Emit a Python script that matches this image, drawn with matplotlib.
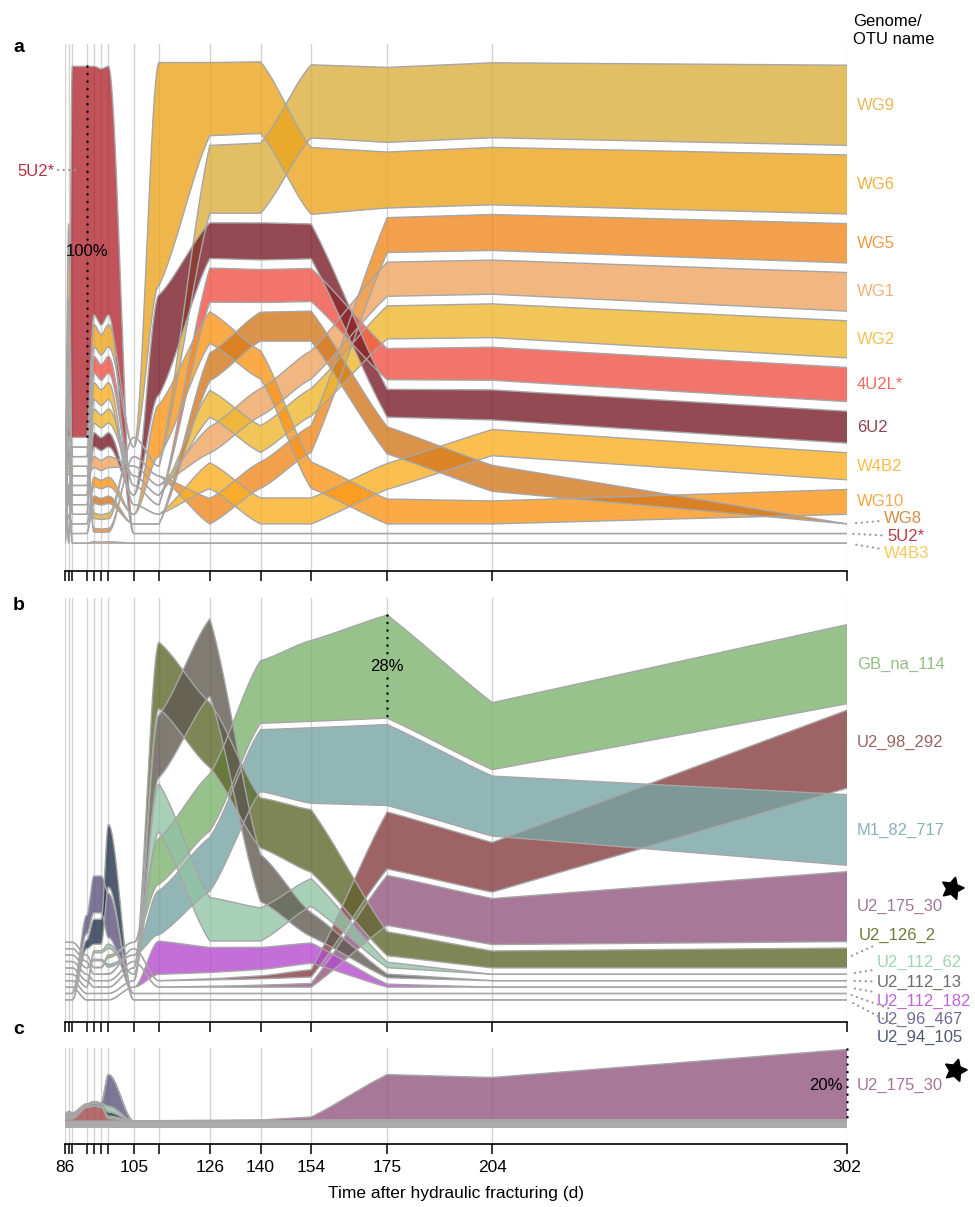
import numpy as np
import matplotlib
matplotlib.use("Agg")
import matplotlib.pyplot as plt
from matplotlib import colors as mcolors
from matplotlib.lines import Line2D

plt.rcParams['font.family'] = ['Liberation Sans', 'DejaVu Sans']

W, H = 975, 1207

days = [86, 87, 88, 92, 94, 96, 98, 105, 112, 126, 140, 154, 175, 204, 302]
labelled_days = [86, 105, 126, 140, 154, 175, 204, 302]

# ---- a: genomes (relative abundance, %) ----
a_names = ['WG9', 'WG6', 'WG5', 'WG1', 'WG2', '4U2L*', '6U2', 'W4B2', 'WG10', 'WG8', '5U2*', 'W4B3']
a_fill = ['#E2BF64', '#F0B74B', '#F2A04C', '#F2B680', '#F1C557', '#F2746B',
          '#934A53', '#FCC04F', '#FBAA48', '#DB924A', '#C1535B', '#FFCF5F']
a_text = ['#E6B85A', '#EEB146', '#EE9A45', '#F1B07A', '#EFC250', '#F06A62',
          '#8A4450', '#F8BC48', '#F8A744', '#D48B43', '#B83A46', '#F7C957']
wg9 = [0, 1.0, 0, 0, 1.5, 1.3, 1.5, 0, 0, 18.3, 18.9, 19.7, 20.2, 20.2, 21.6]
wg6 = [0, 6.0, 0, 0, 6.0, 5.5, 6.0, 0, 60, 19.7, 19.3, 18.0, 15.1, 15.5, 15.9]
wg5 = [0, 0.5, 0, 0, 1.0, 0.9, 1.0, 0, 0, 6.9, 7.1, 7.2, 9.4, 9.7, 10.6]
wg1 = [0, 2.0, 0, 0, 3.0, 2.8, 3.0, 0, 0, 7.1, 7.4, 7.6, 9.2, 9.2, 10.4]
wg2 = [0, 20.0, 0, 0, 3.8, 3.5, 3.8, 0, 0, 7.2, 7.2, 7.4, 8.9, 9.1, 10.0]
u4u2l = [0, 6.0, 0, 0, 4.5, 4.2, 4.5, 0, 0, 9.2, 8.9, 8.9, 8.4, 8.9, 9.2]
u6u2 = [0, 3.0, 0, 0, 3.8, 3.5, 3.8, 0, 27, 9.6, 10.0, 9.4, 7.5, 8.1, 8.6]
w4b2 = [0, 10.0, 0, 0, 4.5, 4.2, 4.5, 0, 0, 7.0, 7.0, 7.0, 7.0, 7.05, 7.3]
wg10 = [0, 1.0, 0, 0, 2.5, 2.3, 2.5, 0, 14, 8.5, 7.6, 7.1, 6.7, 6.2, 6.7]
wg8 = [0, 1.0, 0, 0, 2.0, 1.8, 2.0, 0, 0, 7.5, 7.8, 8.1, 7.3, 7.0, 0]
u5u2 = [0, 5.0, 100, 100, 67, 69, 67, 0, 0, 0, 0, 0, 0, 0, 0]
w4b3 = [0, 2.0, 0, 0, 0.4, 0.3, 0.4, 0, 0, 0, 0, 0, 0, 0, 0]
a_values = [wg9, wg6, wg5, wg1, wg2, u4u2l, u6u2, w4b2, wg10, wg8, u5u2, w4b3]

# ---- b: genomes of the second community ----
b_names = ['GB_na_114', 'U2_98_292', 'M1_82_717', 'U2_175_30', 'U2_126_2',
           'U2_112_62', 'U2_112_13', 'U2_112_182', 'U2_96_467', 'U2_94_105']
b_fill = ['#97C28C', '#9E6465', '#92B6B6', '#A97898', '#7E8656',
          '#A9CFB8', '#807C74', '#C36FD8', '#7D7699', '#4F5C6E']
b_text = ['#92BF85', '#9A6466', '#8AB2B2', '#A3779A', '#6F7A3A',
          '#A3D1B5', '#6F6B66', '#C064D6', '#6E6C94', '#4D5A6C']
gb_na_114 = [0, 0, 0, 0, 0.2, 0.2, 0.8, 0, 12.5, 15.5, 17.0, 22.0, 28.0, 18.2, 21.5]
u2_98_292 = [0, 0, 0, 0, 0, 0, 0.2, 0, 0, 0.3, 0.8, 2.0, 15.5, 13.5, 21.2]
m1_82_717 = [0, 0, 0, 0, 0.4, 0.4, 0.8, 0, 12.0, 14.6, 16.8, 20.5, 22.0, 16.3, 19.2]
u2_175_30 = [0, 0, 0, 0, 0, 0, 0, 0, 0, 0.2, 0.5, 1.0, 13.6, 12.5, 19.0]
u2_126_2 = [0, 0, 0, 0, 0, 0, 0, 0, 18.0, 17.7, 13.6, 17.0, 6.5, 4.6, 5.4]
u2_112_62 = [0, 0, 0, 0, 0.6, 0.6, 1.2, 0, 13.0, 11.8, 9.0, 7.5, 1.5, 0, 0]
u2_112_13 = [0, 0, 0, 0, 0, 0, 0, 0, 17.0, 21.0, 12.8, 6.5, 1.0, 0, 0]
u2_112_182 = [0, 0, 0, 0, 0, 0, 0, 0, 9.0, 6.8, 6.0, 5.5, 0.8, 0, 0]
u2_96_467 = [0, 0, 0, 5.0, 10.0, 10.0, 12.0, 0, 0, 0, 0, 0, 0, 0, 0]
u2_94_105 = [0, 0, 0, 2.3, 6.8, 6.8, 17.0, 0, 0, 0, 0, 0, 0, 0, 0]
b_values = [gb_na_114, u2_98_292, m1_82_717, u2_175_30, u2_126_2,
            u2_112_62, u2_112_13, u2_112_182, u2_96_467, u2_94_105]

# ---- c: OTU relative abundance, plain stack ----
c_names = ['U2_98_292', 'GB_na_114', 'U2_94_105', 'U2_112_62', 'U2_96_467', 'U2_175_30']
c_fill = ['#B46C6C', '#97C28C', '#4F5C6E', '#A9CFB8', '#7D7699', '#A97898']
otu_98_292 = [0.4, 0.6, 0.6, 3.8, 4.2, 3.8, 0.7, 0, 0, 0, 0, 0.1, 0.3, 0.3, 0.3]
otu_gb_114 = [0.5, 0.6, 0.5, 0.2, 0.2, 0.2, 0.6, 0, 0, 0, 0, 0, 0, 0, 0]
otu_94_105 = [0.2, 0.3, 0.3, 0.4, 0.5, 0.5, 1.2, 0, 0, 0, 0, 0, 0, 0, 0]
otu_112_62 = [0.4, 0.5, 0.4, 0.2, 0.3, 0.3, 1.6, 0, 0, 0, 0, 0, 0, 0, 0]
otu_96_467 = [0.3, 0.4, 0.3, 0.1, 0.2, 0.2, 8.8, 0, 0, 0, 0, 0, 0, 0, 0]
otu_175_30 = [0.2, 0.3, 0.2, 0, 0, 0, 0, 0, 0.1, 0.2, 0.3, 1.0, 12.6, 11.8, 19.6]
c_values = [otu_98_292, otu_gb_114, otu_94_105, otu_112_62, otu_96_467, otu_175_30]

EDGE = '#A6A6A6'
ALPHA = 0.8


def solid(hexc, a=ALPHA):
    # colour that looks like hexc once drawn with alpha a over white
    rgb = np.array(mcolors.to_rgb(hexc))
    return tuple(np.clip((rgb - (1 - a)) / a, 0, 1))


def ranked_layers(series, gap):
    v = np.array(series, dtype=float)
    lo = np.zeros_like(v)
    hi = np.zeros_like(v)
    for j in range(v.shape[1]):
        order = sorted(range(len(v)), key=lambda i: (-v[i, j], i))
        base = 0.0
        for i in order[::-1]:
            lo[i, j] = base
            hi[i, j] = base + v[i, j]
            base = hi[i, j] + gap
    return lo, hi


def stacked_layers(series):
    v = np.array(series, dtype=float)
    hi = np.cumsum(v, axis=0)
    return hi - v, hi


def smooth(x, y, n=80, ref=7.7):
    # eased segments: short steps become S-curves, long ones stay straight
    xs, ys = [], []
    for k in range(len(x) - 1):
        u = np.linspace(0, 1, n, endpoint=False)
        w = min(1.0, (ref / (x[k + 1] - x[k])) ** 2)
        s = u + w * (u * u * (3 - 2 * u) - u)
        xs.append(x[k] + u * (x[k + 1] - x[k]))
        ys.append(y[k] + s * (y[k + 1] - y[k]))
    xs.append([x[-1]])
    ys.append([y[-1]])
    return np.concatenate(xs), np.concatenate(ys)


def draw_layers(ax, lo, hi, fills):
    curves = []
    for i in range(len(fills)):
        xf, l = smooth(days, lo[i])
        _, h = smooth(days, hi[i])
        ax.fill_between(xf, l, h, facecolor=solid(fills[i]), alpha=ALPHA, lw=0, zorder=2)
        curves.append((xf, l, h))
    for xf, l, h in curves:
        ax.plot(xf, l, color=EDGE, lw=1.0, zorder=3)
        ax.plot(xf, h, color=EDGE, lw=1.0, zorder=3)


def style_axis(ax, ylim, show_labels=False):
    ax.set_xlim(86, 302)
    ax.set_ylim(*ylim)
    for s in ['top', 'left', 'right']:
        ax.spines[s].set_visible(False)
    ax.spines['bottom'].set_linewidth(1.2)
    ax.set_yticks([])
    ax.set_xticks(days)
    ax.tick_params(axis='x', length=7.5, width=1.1, direction='out', labelsize=12.5, pad=4)
    if show_labels:
        ax.set_xticklabels([str(d) if d in labelled_days else '' for d in days])
    else:
        ax.set_xticklabels([])
    for d in days:
        ax.axvline(d, color='#D2D2D2', lw=1.0, zorder=1)
    ax.set_facecolor('none')


def px_axes(fig, left, top, right, bottom):
    return fig.add_axes([left / W, 1 - bottom / H, (right - left) / W, (bottom - top) / H])


def dotted(ax, x, y0, y1):
    ax.plot([x, x], [y0, y1], color='black', lw=1.8, linestyle=(0, (0.01, 3.0)),
            dash_capstyle='round', zorder=6, clip_on=False)


def side_label(ax, y, text, color, dx=10, dy=0, leader=False):
    kw = {}
    if leader:
        kw['arrowprops'] = dict(arrowstyle='-', color='#9A9A9A', lw=1.6,
                                linestyle=(0, (0.1, 2.4)), capstyle='round',
                                shrinkA=2, shrinkB=3)
    ax.annotate(text, xy=(302, y), xytext=(dx, dy), textcoords='offset pixels',
                color=color, fontsize=12, ha='left', va='center',
                annotation_clip=False, **kw)


fig = plt.figure(figsize=(W / 100, H / 100), dpi=100)

ax_a = px_axes(fig, 65, 44, 847, 571)
ax_b = px_axes(fig, 65, 598, 847, 1022)
ax_c = px_axes(fig, 65, 1048, 847, 1144)

ylim_a = (-7.5, 134.5)
ylim_b = (-6.0, 109.2)
ylim_c = (-6.4, 20.3)
ppu_a = (571 - 44) / (ylim_a[1] - ylim_a[0])
ppu_b = (1022 - 598) / (ylim_b[1] - ylim_b[0])

style_axis(ax_a, ylim_a)
style_axis(ax_b, ylim_b)
style_axis(ax_c, ylim_c, show_labels=True)

# panel a
lo_a, hi_a = ranked_layers(a_values, 2.59)
draw_layers(ax_a, lo_a, hi_a, a_fill)
end = len(days) - 1
for i, name in enumerate(a_names):
    mid = (lo_a[i, end] + hi_a[i, end]) / 2
    if name == 'WG8':
        side_label(ax_a, mid, name, a_text[i], dx=37, dy=5, leader=True)
    elif name == '5U2*':
        side_label(ax_a, mid, name, a_text[i], dx=40, dy=-3, leader=True)
    elif name == 'W4B3':
        side_label(ax_a, mid, name, a_text[i], dx=37, dy=-10, leader=True)
    else:
        side_label(ax_a, mid, name, a_text[i])

# 5U2 at its peak
k = days.index(92)
i5 = a_names.index('5U2*')
m = (lo_a[i5, k] + hi_a[i5, k]) / 2
g = 11 / ppu_a
dotted(ax_a, 92, hi_a[i5, k], m + g)
dotted(ax_a, 92, m - g, lo_a[i5, k])
ax_a.text(92, m, '%d%%' % u5u2[k], ha='center', va='center', fontsize=12, zorder=7)

# panel b
lo_b, hi_b = ranked_layers(b_values, 1.74)
draw_layers(ax_b, lo_b, hi_b, b_fill)
b_offsets = {'U2_98_292': (10, 7, False), 'U2_126_2': (12, 23, True),
             'U2_112_62': (30, 12, True), 'U2_112_13': (30, -2, True),
             'U2_112_182': (30, -14, True), 'U2_96_467': (30, -26, True),
             'U2_94_105': (30, -38, True)}
for i, name in enumerate(b_names):
    mid = (lo_b[i, end] + hi_b[i, end]) / 2
    dx, dy, lead = b_offsets.get(name, (10, 0, False))
    side_label(ax_b, mid, name, b_text[i], dx=dx, dy=dy, leader=lead)

k = days.index(175)
ig = b_names.index('GB_na_114')
m = (lo_b[ig, k] + hi_b[ig, k]) / 2
g = 11 / ppu_b
dotted(ax_b, 175, hi_b[ig, k], m + g)
dotted(ax_b, 175, m - g, lo_b[ig, k])
ax_b.text(175, m, '%d%%' % gb_na_114[k], ha='center', va='center', fontsize=12, zorder=7)

# panel c
xf = np.array(days, dtype=float)
ax_c.fill_between(xf, -2.0, 0, color='#ABABAB', lw=0, zorder=2)
lo_c, hi_c = stacked_layers(c_values)
draw_layers(ax_c, lo_c, hi_c, c_fill)
ic = c_names.index('U2_175_30')
top_c = hi_c[ic, end]
dotted(ax_c, 302, top_c, 0)
ax_c.annotate('%d%%' % round(otu_175_30[end]), xy=(302, top_c / 2), xytext=(-4, 0),
              textcoords='offset pixels', ha='right', va='center', fontsize=12, zorder=7)
side_label(ax_c, top_c / 2, 'U2_175_30', b_text[b_names.index('U2_175_30')])
ax_c.set_xlabel('Time after hydraulic fracturing (d)', fontsize=12.5, labelpad=8)

# figure furniture
for letter, y in [('a', 48), ('b', 606), ('c', 1030)]:
    fig.text(13 / W, 1 - y / H, letter, fontsize=14, fontweight='bold', va='center')
fig.text(853 / W, 1 - 14 / H, 'Genome/\nOTU name', fontsize=12, va='top', linespacing=1.25)
fig.text(55 / W, 1 - 171 / H, '5U2*', fontsize=12, color='#B5303F', ha='right', va='center')
fig.add_artist(Line2D([58 / W, 76 / W], [1 - 170 / H] * 2, color='#9A9A9A', lw=1.6,
                      linestyle=(0, (0.1, 2.4)), dash_capstyle='round'))
for sx, sy in [(952, 888), (955, 1070)]:
    fig.add_artist(Line2D([sx / W], [1 - sy / H], marker=(5, 1, -15), markersize=17,
                          color='black', linestyle='none'))

fig.savefig('out.png', dpi=100)
